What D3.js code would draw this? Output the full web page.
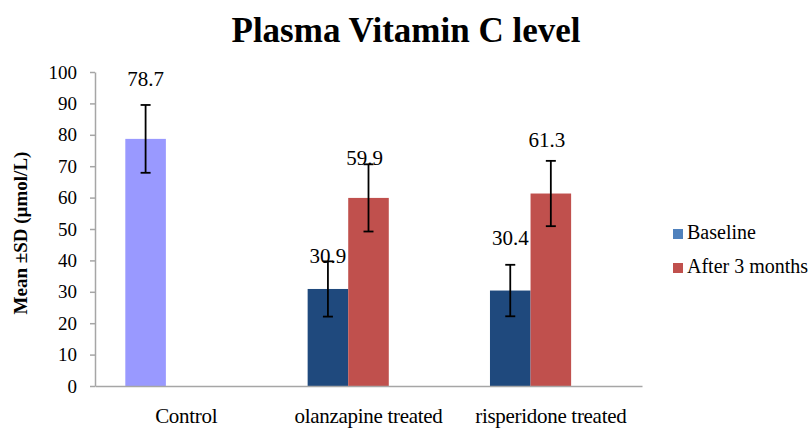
<!DOCTYPE html>
<html>
<head>
<meta charset="utf-8">
<script src="https://cdn.jsdelivr.net/npm/d3@7"></script>
<style>
  html, body { margin: 0; padding: 0; background: #ffffff; }
  svg text { font-family: "Liberation Serif", "Times New Roman", "DejaVu Serif", serif; }
</style>
</head>
<body>
<svg id="chart" width="811" height="428"></svg>
<script>
// ---- data ----
const title = "Plasma Vitamin C level";
const yAxisLabel = "Mean \u00B1SD (\u00B5mol/L)";
const categories = ["Control", "olanzapine treated", "risperidone treated"];
const seriesNames = ["Baseline", "After 3 months"];
const baselineMeans = [78.7, 30.9, 30.4];
const baselineSD = [10.8, 8.8, 8.2];
const afterMeans = [null, 59.9, 61.3];
const afterSD = [null, 10.7, 10.4];
const yTicks = [0, 10, 20, 30, 40, 50, 60, 70, 80, 90, 100];

// ---- layout / style ----
const FONT = "'Liberation Serif', 'Times New Roman', serif";
const svg = d3.select("#chart");
const plot = { left: 95, right: 642, top: 72, bottom: 386 };
const seriesColors = { "Baseline": "#1F497D", "After 3 months": "#C0504D" };
const legendColors = { "Baseline": "#4F81BD", "After 3 months": "#C0504D" };
const controlColor = "#9999FF";
const axisColor = "#A6A6A6";

const x0 = d3.scaleBand().domain(categories).range([plot.left, plot.right]).padding(0);
const slots = [...seriesNames, "_spare"];
const x1 = d3.scaleBand().domain(slots).range([0, x0.bandwidth()])
  .paddingInner(0).paddingOuter(0.747);
const y = d3.scaleLinear().domain([0, 100]).range([plot.bottom, plot.top]);

// bars
const bars = [];
categories.forEach((c, i) => {
  if (baselineMeans[i] != null) bars.push({ cat: c, i, series: "Baseline", mean: baselineMeans[i], sd: baselineSD[i] });
  if (afterMeans[i] != null) bars.push({ cat: c, i, series: "After 3 months", mean: afterMeans[i], sd: afterSD[i] });
});

svg.append("g").selectAll("rect").data(bars).join("rect")
  .attr("x", d => x0(d.cat) + x1(d.series))
  .attr("width", x1.bandwidth())
  .attr("y", d => y(d.mean))
  .attr("height", d => y(0) - y(d.mean))
  .attr("fill", d => d.i === 0 ? controlColor : seriesColors[d.series]);

// y axis
const yAxis = d3.axisLeft(y).tickValues(yTicks).tickSizeInner(5).tickSizeOuter(0).tickPadding(13);
const gy = svg.append("g").attr("transform", `translate(${plot.left},0)`).call(yAxis)
  .attr("font-family", FONT);
gy.select(".domain").attr("stroke", axisColor).attr("stroke-width", 1.5);
gy.selectAll(".tick line").attr("stroke", axisColor).attr("stroke-width", 1.5);
gy.selectAll(".tick text")
  .attr("fill", "#000").attr("font-size", 19).attr("font-family", FONT);

// x axis
const xAxis = d3.axisBottom(x0).tickSize(0).tickPadding(0);
const gx = svg.append("g").attr("transform", `translate(0,${plot.bottom})`).call(xAxis)
  .attr("font-family", FONT);
gx.select(".domain").attr("stroke", axisColor).attr("stroke-width", 1.5);
gx.selectAll(".tick text")
  .attr("y", 37).attr("dy", 0)
  .attr("fill", "#000").attr("font-size", 21).attr("font-family", FONT)
  .attr("letter-spacing", "-0.3");

// error bars
const eb = svg.append("g").attr("stroke", "#000").attr("stroke-width", 1.8);
bars.forEach(d => {
  const cx = x0(d.cat) + x1(d.series) + x1.bandwidth() / 2;
  const yt = y(d.mean + d.sd), yb = y(d.mean - d.sd);
  eb.append("line").attr("x1", cx).attr("x2", cx).attr("y1", yt).attr("y2", yb);
  eb.append("line").attr("x1", cx - 5).attr("x2", cx + 5).attr("y1", yt).attr("y2", yt);
  eb.append("line").attr("x1", cx - 5).attr("x2", cx + 5).attr("y1", yb).attr("y2", yb);
});

// value labels (manual nudges like the original)
const labelNudges = [ [0, -19], [0, 2], [-4, 1], [0, -20], [-4, -14] ];
svg.append("g").selectAll("text").data(bars).join("text")
  .attr("x", (d, k) => x0(d.cat) + x1(d.series) + x1.bandwidth() / 2 + labelNudges[k][0])
  .attr("y", (d, k) => y(d.mean + d.sd) + labelNudges[k][1])
  .attr("text-anchor", "middle")
  .attr("font-family", FONT).attr("font-size", 21)
  .attr("fill", "#000")
  .text(d => d.mean.toFixed(1));

// title
svg.append("text")
  .attr("x", 406).attr("y", 42)
  .attr("text-anchor", "middle")
  .attr("font-family", FONT).attr("font-size", 35).attr("font-weight", "bold")
  .attr("fill", "#000")
  .text(title);

// y axis label
svg.append("text")
  .attr("transform", `translate(27,${(plot.top + plot.bottom) / 2 + 4}) rotate(-90)`)
  .attr("text-anchor", "middle")
  .attr("font-family", FONT).attr("font-size", 19).attr("font-weight", "bold")
  .attr("fill", "#000")
  .text(yAxisLabel);

// legend
const lg = svg.append("g").attr("transform", "translate(673,229)");
seriesNames.forEach((s, k) => {
  const g = lg.append("g").attr("transform", `translate(0,${k * 34})`);
  g.append("rect").attr("width", 10).attr("height", 10).attr("fill", legendColors[s]);
  g.append("text").attr("x", 14).attr("y", 10)
    .attr("font-family", FONT).attr("font-size", 20).attr("fill", "#000").text(s);
});
</script>
</body>
</html>
